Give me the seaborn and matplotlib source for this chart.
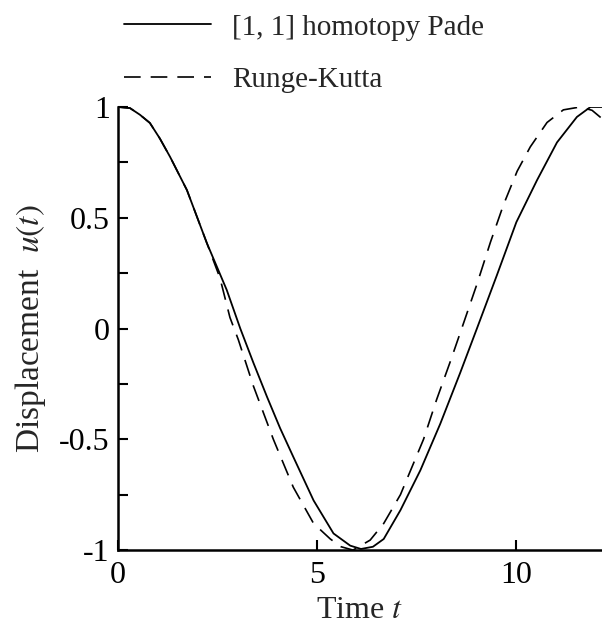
import matplotlib
matplotlib.use("Agg")
import matplotlib.pyplot as plt
import seaborn as sns
import pandas as pd

# values
t_pade = [0, 0.3, 0.55, 0.8, 1.05, 1.31, 1.73, 2.23, 2.73, 3.07, 3.4, 3.74,
          4.07, 4.4, 4.91, 5.41, 5.83, 6.1, 6.4, 6.67, 7.09, 7.59, 8.09, 8.59,
          9.01, 9.51, 10.0, 10.52, 11.02, 11.52, 11.86, 12.2]
u_pade = [1.0, 0.995, 0.965, 0.928, 0.858, 0.774, 0.625, 0.386, 0.174, 0.0,
          -0.155, -0.308, -0.45, -0.579, -0.776, -0.925, -0.98, -0.995, -0.985,
          -0.95, -0.82, -0.64, -0.43, -0.2, 0.0, 0.24, 0.48, 0.67, 0.84, 0.955,
          1.0, 1.0]

t_rk = [0, 0.3, 0.55, 0.8, 1.05, 1.31, 1.73, 2.23, 2.56, 2.81, 3.02, 3.4, 3.9,
        4.4, 4.91, 5.33, 5.6, 5.9, 6.33, 6.67, 7.09, 7.67, 8.0, 8.34, 8.59,
        9.01, 9.35, 9.68, 10.02, 10.35, 10.77, 11.18, 11.6, 11.9, 12.2]
u_rk = [1.0, 0.995, 0.965, 0.928, 0.858, 0.774, 0.625, 0.386, 0.228, 0.05,
        -0.05, -0.26, -0.5, -0.716, -0.88, -0.95, -0.985, -1.0, -0.955, -0.88,
        -0.75, -0.5, -0.32, -0.15, -0.02, 0.2, 0.39, 0.56, 0.71, 0.82, 0.93,
        0.987, 1.0, 0.985, 0.94]

labels = ["[1, 1] homotopy Pade", "Runge-Kutta"]

sns.set_style("ticks")
plt.rcParams['font.family'] = ['Liberation Serif', 'DejaVu Serif']
plt.rcParams['mathtext.fontset'] = 'stix'

fig = plt.figure(figsize=(6.02, 6.33), dpi=100)
ax = fig.add_axes([0.196, 0.131, 0.804, 0.70])

df1 = pd.DataFrame({"t": t_pade, "u": u_pade})
df2 = pd.DataFrame({"t": t_rk, "u": u_rk})
sns.lineplot(data=df2, x="t", y="u", ax=ax, color="black", lw=1.2, label=labels[1])
sns.lineplot(data=df1, x="t", y="u", ax=ax, color="black", lw=1.3, label=labels[0])
ax.lines[0].set_dashes([10, 6])

ax.set_xlim(0, 12.15)
ax.set_ylim(-1, 1)
ax.set_xticks([0, 5, 10])
ax.set_yticks([-1, -0.75, -0.5, -0.25, 0, 0.25, 0.5, 0.75, 1])
ax.set_yticklabels(["-1", "", "-0.5", "", "0", "", "0.5", "", "1"])
ax.tick_params(direction="in", length=7, width=1.5, labelsize=23, colors="black")
ax.tick_params(axis="x", pad=8)
ax.tick_params(axis="y", pad=6)
for s in ["top", "right"]:
    ax.spines[s].set_visible(False)
for s in ["left", "bottom"]:
    ax.spines[s].set_linewidth(1.8)
    ax.spines[s].set_color("black")

ax.set_xlabel("Time $t$", fontsize=23, labelpad=4)
ax.set_ylabel("Displacement  $u(t)$", fontsize=24, labelpad=8)

ax.legend_.remove()
h, l = ax.get_legend_handles_labels()
fig.legend(h[::-1], l[::-1], loc="upper left", bbox_to_anchor=(0.172, 1.01),
           frameon=False, fontsize=21, handlelength=3.0, handletextpad=0.7,
           labelspacing=0.9, borderpad=0.2)

fig.savefig("out.png", dpi=100)
